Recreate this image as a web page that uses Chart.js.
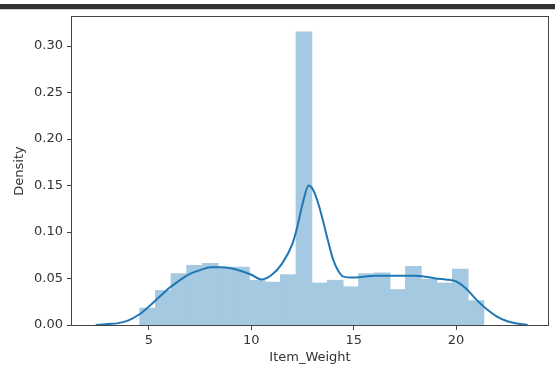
<!DOCTYPE html>
<html>
<head>
<meta charset="utf-8">
<script src="https://cdn.jsdelivr.net/npm/chart.js@4"></script>
<style>
  html, body { margin: 0; padding: 0; background: #fff; }
  #wrap { position: relative; width: 555px; height: 374px; }
  #band { position: absolute; left: 0; top: 4px; width: 555px; height: 5px; background: #333; }
  #band2 { position: absolute; left: 0; top: 9px; width: 555px; height: 1px; background: #ccc; }
  canvas { position: absolute; left: 0; top: 0; }
</style>
</head>
<body>
<div id="wrap">
  <canvas id="c" width="555" height="374"></canvas>
  <div id="band"></div>
  <div id="band2"></div>
</div>
<script>
// Histogram (22 bins between data min and max)
const binStart = 4.555;
const binEnd = 21.35;
const histDensity = [0.018, 0.037, 0.055, 0.064, 0.066, 0.062, 0.062, 0.048, 0.046, 0.054, 0.315,
                     0.045, 0.048, 0.041, 0.055, 0.056, 0.038, 0.063, 0.049, 0.045, 0.060, 0.026];

// KDE curve
const kdeX = [2.4, 3.0, 3.5, 4.0, 4.5, 5.0, 5.5, 6.0, 6.5, 7.0, 7.5, 8.0, 8.5, 9.0, 9.5, 10.0, 10.5,
              11.0, 11.5, 12.0, 12.25, 12.5, 12.8, 13.0, 13.25, 13.5, 13.75, 14.0, 14.25, 14.5, 15.0,
              15.5, 16.0, 16.5, 17.0, 17.5, 18.0, 18.5, 19.0, 19.5, 20.0, 20.5, 21.0, 21.5, 22.0,
              22.5, 23.0, 23.5];
const kdeY = [0.000, 0.001, 0.002, 0.005, 0.011, 0.020, 0.030, 0.040, 0.048, 0.055, 0.059, 0.062,
              0.062, 0.061, 0.058, 0.054, 0.049, 0.054, 0.066, 0.087, 0.106, 0.130, 0.150, 0.146,
              0.132, 0.112, 0.090, 0.070, 0.058, 0.052, 0.051, 0.052, 0.053, 0.053, 0.053, 0.053,
              0.053, 0.052, 0.050, 0.049, 0.047, 0.039, 0.027, 0.017, 0.009, 0.004, 0.0015, 0.000];

// Tick labels
const xTicks = [5, 10, 15, 20];
const yTicks = [0.00, 0.05, 0.10, 0.15, 0.20, 0.25, 0.30];
const xTitle = 'Item_Weight';
const yTitle = 'Density';

const binWidth = (binEnd - binStart) / histDensity.length;
const histData = histDensity.map((d, i) => ({ x: binStart + (i + 0.5) * binWidth, y: d }));
const kdeData = kdeX.map((x, i) => ({ x: x, y: kdeY[i] }));

const FONT = { family: 'DejaVu Sans', size: 13 };
const TEXT = '#333';
const AXIS = '#444';

const framePlugin = {
  id: 'frame',
  afterDatasetsDraw(chart) {
    const a = chart.chartArea, ctx = chart.ctx;
    ctx.save();
    ctx.strokeStyle = AXIS;
    ctx.lineWidth = 1;
    ctx.strokeRect(Math.round(a.left) - 0.5, Math.round(a.top) - 0.5,
                   Math.round(a.right) - Math.round(a.left) + 1, Math.round(a.bottom) - Math.round(a.top) + 1);
    ctx.restore();
  }
};

new Chart(document.getElementById('c'), {
  type: 'bar',
  data: {
    datasets: [
      {
        type: 'line',
        data: kdeData,
        borderColor: '#1f77b4',
        borderWidth: 2,
        pointRadius: 0,
        fill: false,
        cubicInterpolationMode: 'monotone',
        order: 0
      },
      {
        type: 'bar',
        data: histData,
        backgroundColor: 'rgb(165,201,225)',
        borderWidth: 0,
        inflateAmount: 0.5,
        barPercentage: 1.0,
        categoryPercentage: 1.0,
        grouped: false,
        order: 1
      }
    ]
  },
  options: {
    responsive: false,
    animation: false,
    layout: { padding: { left: 0, right: 7, top: 17, bottom: 0 } },
    plugins: { legend: { display: false }, tooltip: { enabled: false } },
    scales: {
      x: {
        type: 'linear',
        offset: false,
        min: 1.24,
        max: 24.49,
        afterBuildTicks: s => { s.ticks = xTicks.map(v => ({ value: v })); },
        afterFit: s => { s.height = 49; },
        grid: { offset: false, drawOnChartArea: false, drawTicks: true, tickLength: 5, color: AXIS, lineWidth: 1 },
        border: { display: false },
        ticks: { font: FONT, color: TEXT, padding: 3, maxRotation: 0, autoSkip: false,
                 callback: v => String(v) },
        title: { display: true, text: xTitle, font: FONT, color: TEXT, padding: { top: 0, bottom: 9 } }
      },
      y: {
        min: 0,
        max: 0.3312,
        afterBuildTicks: s => { s.ticks = yTicks.map(v => ({ value: v })); },
        afterFit: s => { s.width = 72; },
        grid: { drawOnChartArea: false, drawTicks: true, tickLength: 5, color: AXIS, lineWidth: 1 },
        border: { display: false },
        ticks: { font: FONT, color: TEXT, padding: 4, autoSkip: false,
                 callback: v => Number(v).toFixed(2) },
        title: { display: true, text: yTitle, font: FONT, color: TEXT, padding: { top: 12, bottom: 0 } }
      }
    }
  },
  plugins: [framePlugin]
});
</script>
</body>
</html>
